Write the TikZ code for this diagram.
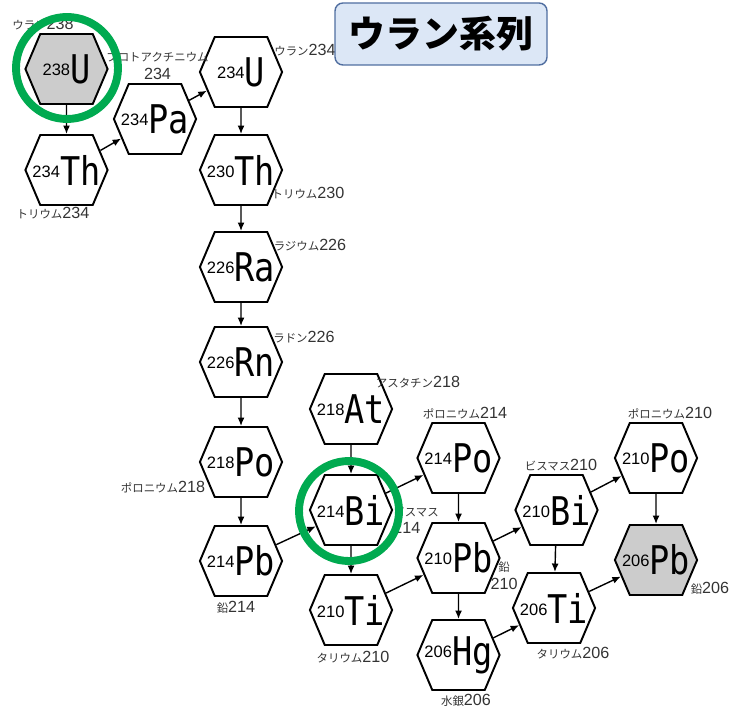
\documentclass[tikz,border=0pt]{standalone}
\usepackage{fontspec}
\usepackage{tikz}
\usetikzlibrary{shapes.symbols, arrows.meta}
\newfontfamily\jpfont{Noto Sans CJK JP}
\newfontfamily\elemfont{DejaVu Sans Mono}[FakeStretch=0.85]
\newfontfamily\numfont{Liberation Sans}
\definecolor{cRing}{RGB}{0,170,80}
\definecolor{cTitleFill}{RGB}{220,231,246}
\definecolor{cTitleDraw}{RGB}{80,110,160}
% mass number + element symbol, and name + mass number
\newcommand{\nuc}[2]{\makebox[1.05cm][c]{\raisebox{4.5pt}{\numfont\fontsize{9.4}{10}\selectfont #1}{\elemfont\fontsize{22.5}{22}\selectfont #2}}}
\newcommand{\lab}[2]{{\jpfont\fontsize{6.5}{8}\selectfont #1}{\numfont\fontsize{9.2}{10}\selectfont #2}}
\tikzset{
	nuclide/.style={signal, signal to=east and west, signal pointer angle=134, draw=black, line width=1.1pt, fill=white, minimum width=1.1cm, minimum height=1.4cm, inner sep=0pt},
	shaded/.style ={nuclide, fill=gray!40},
	decay/.style  ={-{Latex[length=1.7mm,width=1.4mm]}, line width=0.8pt},
	lbl/.style    ={text=black!80, inner sep=0pt, align=center},
	ring/.style   ={draw=cRing, line width=4.5pt},
}
\begin{document}
\begin{tikzpicture}
	\useasboundingbox (0,0) rectangle (14.62,14.2);
	% nuclides
	\node[shaded]  (u238)  at (1.33,12.82) {\nuc{238}{U}};
	\node[nuclide] (th234) at (1.33,10.80) {\nuc{234}{Th}};
	\node[nuclide] (pa234) at (3.10,11.82) {\nuc{234}{Pa}};
	\node[nuclide] (u234)  at (4.82,12.76) {\nuc{234}{U}};
	\node[nuclide] (th230) at (4.82,10.80) {\nuc{230}{Th}};
	\node[nuclide] (ra226) at (4.82,8.86) {\nuc{226}{Ra}};
	\node[nuclide] (rn226) at (4.82,6.96) {\nuc{226}{Rn}};
	\node[nuclide] (po218) at (4.82,4.96) {\nuc{218}{Po}};
	\node[nuclide] (pb214) at (4.82,2.98) {\nuc{214}{Pb}};
	\node[nuclide] (at218) at (7.02,6.02) {\nuc{218}{At}};
	\node[nuclide] (bi214) at (7.02,4.00) {\nuc{214}{Bi}};
	\node[nuclide] (ti210) at (7.02,2.00) {\nuc{210}{Ti}};
	\node[nuclide] (po214) at (9.17,5.04) {\nuc{214}{Po}};
	\node[nuclide] (pb210) at (9.17,3.04) {\nuc{210}{Pb}};
	\node[nuclide] (hg206) at (9.17,1.10) {\nuc{206}{Hg}};
	\node[nuclide] (bi210) at (11.13,4.00) {\nuc{210}{Bi}};
	\node[nuclide] (ti206) at (11.08,2.04) {\nuc{206}{Ti}};
	\node[nuclide] (po210) at (13.12,5.04) {\nuc{210}{Po}};
	\node[shaded]  (pb206) at (13.12,3.00) {\nuc{206}{Pb}};
	% names
	\node[lbl] (l-u238)  at (0.86,13.72) {\lab{ウラン}{238}};
	\node[lbl] (l-pa234) at (3.15,12.88) {{\jpfont\fontsize{6.5}{8}\selectfont プロトアクチニウム}\\[-2pt]{\numfont\fontsize{9.2}{10}\selectfont 234}};
	\node[lbl] (l-u234)  at (6.10,13.20) {\lab{ウラン}{234}};
	\node[lbl] (l-th234) at (1.06,9.94) {\lab{トリウム}{234}};
	\node[lbl] (l-th230) at (6.16,10.34) {\lab{トリウム}{230}};
	\node[lbl] (l-ra226) at (6.20,9.30) {\lab{ラジウム}{226}};
	\node[lbl] (l-rn226) at (6.08,7.46) {\lab{ラドン}{226}};
	\node[lbl] (l-po218) at (3.26,4.46) {\lab{ポロニウム}{218}};
	\node[lbl] (l-pb214) at (4.72,2.06) {\lab{鉛}{214}};
	\node[lbl] (l-at218) at (8.36,6.56) {\lab{アスタチン}{218}};
	\node[lbl, align=left, anchor=west] (l-bi214) at (7.86,3.79) {{\jpfont\fontsize{6.5}{8}\selectfont ビスマス}\\[-2pt]{\numfont\fontsize{9.2}{10}\selectfont 214}};
	\node[lbl] (l-po214) at (9.30,5.94) {\lab{ポロニウム}{214}};
	\node[lbl] (l-pb210) at (10.08,2.69) {{\jpfont\fontsize{6.5}{8}\selectfont 鉛}\\[-2pt]{\numfont\fontsize{9.2}{10}\selectfont 210}};
	\node[lbl] (l-ti210) at (7.06,1.06) {\lab{タリウム}{210}};
	\node[lbl] (l-hg206) at (9.32,0.20) {\lab{水銀}{206}};
	\node[lbl] (l-bi210) at (11.22,4.90) {\lab{ビスマス}{210}};
	\node[lbl] (l-po210) at (13.40,5.94) {\lab{ポロニウム}{210}};
	\node[lbl] (l-pb206) at (14.20,2.44) {\lab{鉛}{206}};
	\node[lbl] (l-ti206) at (11.46,1.14) {\lab{タリウム}{206}};
	% decays
	\draw[decay] (u238) -- (th234);
	\draw[decay] (th234) -- (pa234);
	\draw[decay] (pa234) -- (u234);
	\draw[decay] (u234) -- (th230);
	\draw[decay] (th230) -- (ra226);
	\draw[decay] (ra226) -- (rn226);
	\draw[decay] (rn226) -- (po218);
	\draw[decay] (po218) -- (pb214);
	\draw[decay] (pb214) -- (bi214);
	\draw[decay] (at218) -- (bi214);
	\draw[decay] (bi214) -- (po214);
	\draw[decay] (bi214) -- (ti210);
	\draw[decay] (po214) -- (pb210);
	\draw[decay] (ti210) -- (pb210);
	\draw[decay] (pb210) -- (bi210);
	\draw[decay] (pb210) -- (hg206);
	\draw[decay] (hg206) -- (ti206);
	\draw[decay] (bi210) -- (po210);
	\draw[decay] (bi210) -- (ti206);
	\draw[decay] (po210) -- (pb206);
	\draw[decay] (ti206) -- (pb206);
	% title and marks
	\node[draw=cTitleDraw, line width=0.8pt, fill=cTitleFill, rounded corners=4.5pt, minimum width=4.24cm, minimum height=1.24cm] (title) at (8.82,13.52) {\jpfont\bfseries\fontsize{21}{21}\selectfont ウラン系列};
	\draw[ring] (u238.center) ++(0.01,0.02) circle (1.02);
	\draw[ring] (bi214.center) ++(-0.04,-0.02) circle (1.0);
\end{tikzpicture}
\end{document}
